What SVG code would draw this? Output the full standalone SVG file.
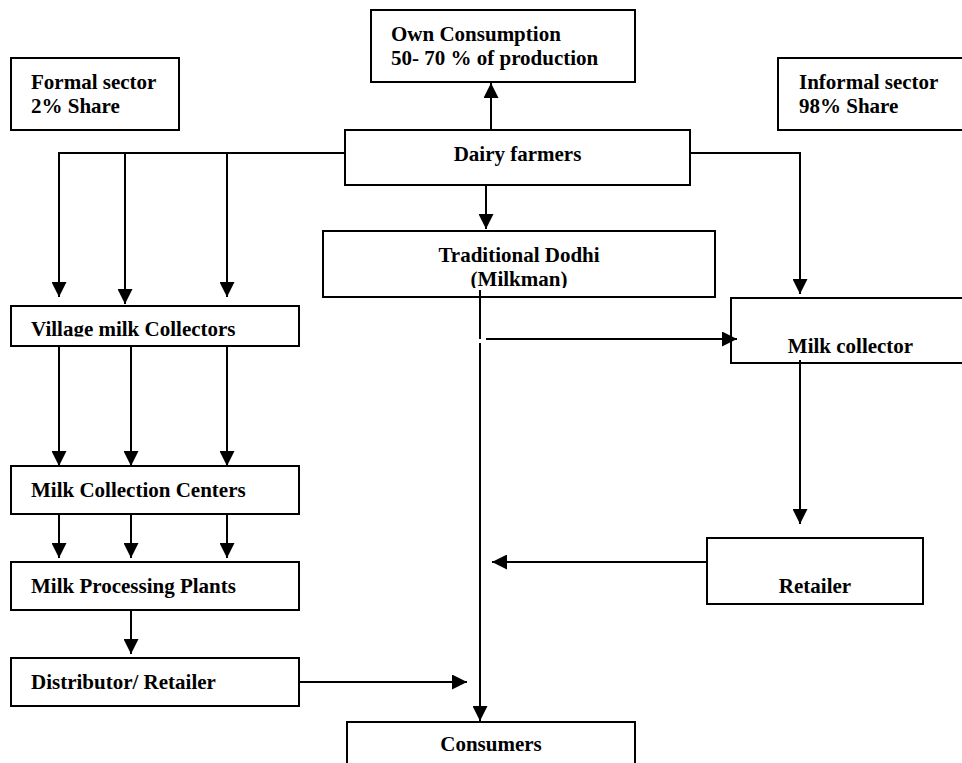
<svg xmlns="http://www.w3.org/2000/svg" width="962" height="763" viewBox="0 0 962 763">
  <style>
    .box { fill: #ffffff; stroke: #000000; stroke-width: 2; }
    .lbl { font-family: "Liberation Serif", "Times New Roman", serif; font-weight: bold; font-size: 21px; fill: #000000; }
    .mid { text-anchor: middle; }
    .conn { fill: none; stroke: #000000; stroke-width: 2; }
  </style>
  <defs>
    <marker id="arrow" markerUnits="userSpaceOnUse" markerWidth="15" markerHeight="15" refX="15" refY="7.5" orient="auto">
      <path d="M0,0 L15,7.5 L0,15 Z" fill="#000000"/>
    </marker>
    <clipPath id="clipVillage"><rect x="0" y="300" width="320" height="36.5"/></clipPath>
    <clipPath id="clipDodhi"><rect x="320" y="225" width="400" height="63"/></clipPath>
  </defs>

  <rect x="0" y="0" width="962" height="763" fill="#ffffff"/>

  <!-- boxes -->
  <g id="own-consumption">
    <rect class="box" x="371" y="10" width="264" height="72"/>
    <text class="lbl" x="391" y="41">Own Consumption</text>
    <text class="lbl" x="391" y="65">50- 70 % of production</text>
  </g>
  <g id="formal-sector">
    <rect class="box" x="11" y="58" width="168" height="72"/>
    <text class="lbl" x="31" y="89">Formal sector</text>
    <text class="lbl" x="31" y="113">2% Share</text>
  </g>
  <g id="informal-sector">
    <rect class="box" x="778" y="58" width="200" height="72"/>
    <text class="lbl" x="799" y="89">Informal sector</text>
    <text class="lbl" x="799" y="113">98% Share</text>
  </g>
  <g id="dairy-farmers">
    <rect class="box" x="345" y="130" width="345" height="55"/>
    <text class="lbl mid" x="517.5" y="161">Dairy farmers</text>
  </g>
  <g id="traditional-dodhi">
    <rect class="box" x="323" y="231" width="392" height="66"/>
    <text class="lbl mid" x="519" y="262">Traditional Dodhi</text>
    <text class="lbl mid" x="519" y="286" clip-path="url(#clipDodhi)">(Milkman)</text>
  </g>
  <g id="village-collectors">
    <rect class="box" x="11" y="306" width="288" height="40"/>
    <text class="lbl" x="31" y="336" clip-path="url(#clipVillage)">Village milk Collectors</text>
  </g>
  <g id="milk-collector">
    <rect class="box" x="731" y="298" width="250" height="65"/>
    <text class="lbl mid" x="850.5" y="353">Milk collector</text>
  </g>
  <g id="collection-centers">
    <rect class="box" x="11" y="466" width="288" height="48"/>
    <text class="lbl" x="31" y="497">Milk Collection Centers</text>
  </g>
  <g id="retailer">
    <rect class="box" x="707" y="538" width="216" height="66"/>
    <text class="lbl mid" x="815" y="593">Retailer</text>
  </g>
  <g id="processing-plants">
    <rect class="box" x="11" y="562" width="288" height="48"/>
    <text class="lbl" x="31" y="593">Milk Processing Plants</text>
  </g>
  <g id="distributor-retailer">
    <rect class="box" x="11" y="658" width="288" height="48"/>
    <text class="lbl" x="31" y="689">Distributor/ Retailer</text>
  </g>
  <g id="consumers">
    <rect class="box" x="347" y="722" width="288" height="60"/>
    <text class="lbl mid" x="491" y="751">Consumers</text>
  </g>

  <!-- connectors -->
  <g id="connectors">
    <line class="conn" x1="491" y1="130" x2="491" y2="83" marker-end="url(#arrow)"/>
    <polyline class="conn" points="345,153 59,153 59,297" marker-end="url(#arrow)"/>
    <line class="conn" x1="125" y1="152" x2="125" y2="304" marker-end="url(#arrow)"/>
    <line class="conn" x1="227" y1="153" x2="227" y2="297" marker-end="url(#arrow)"/>
    <line class="conn" x1="486" y1="185" x2="486" y2="229" marker-end="url(#arrow)"/>
    <polyline class="conn" points="690,153 800,153 800,294" marker-end="url(#arrow)"/>

    <line class="conn" x1="59" y1="346" x2="59" y2="466" marker-end="url(#arrow)"/>
    <line class="conn" x1="131" y1="346" x2="131" y2="466" marker-end="url(#arrow)"/>
    <line class="conn" x1="227" y1="346" x2="227" y2="466" marker-end="url(#arrow)"/>

    <line class="conn" x1="59" y1="514" x2="59" y2="558" marker-end="url(#arrow)"/>
    <line class="conn" x1="131" y1="514" x2="131" y2="558" marker-end="url(#arrow)"/>
    <line class="conn" x1="227" y1="514" x2="227" y2="558" marker-end="url(#arrow)"/>

    <line class="conn" x1="131" y1="610" x2="131" y2="654" marker-end="url(#arrow)"/>
    <line class="conn" x1="299" y1="682" x2="467" y2="682" marker-end="url(#arrow)"/>

    <line class="conn" x1="480" y1="290" x2="480" y2="339"/>
    <line class="conn" x1="480" y1="343" x2="480" y2="721" marker-end="url(#arrow)"/>
    <line class="conn" x1="486" y1="339" x2="737" y2="339" marker-end="url(#arrow)"/>

    <line class="conn" x1="800" y1="360" x2="800" y2="524" marker-end="url(#arrow)"/>
    <line class="conn" x1="707" y1="562" x2="492" y2="562" marker-end="url(#arrow)"/>
  </g>
</svg>
